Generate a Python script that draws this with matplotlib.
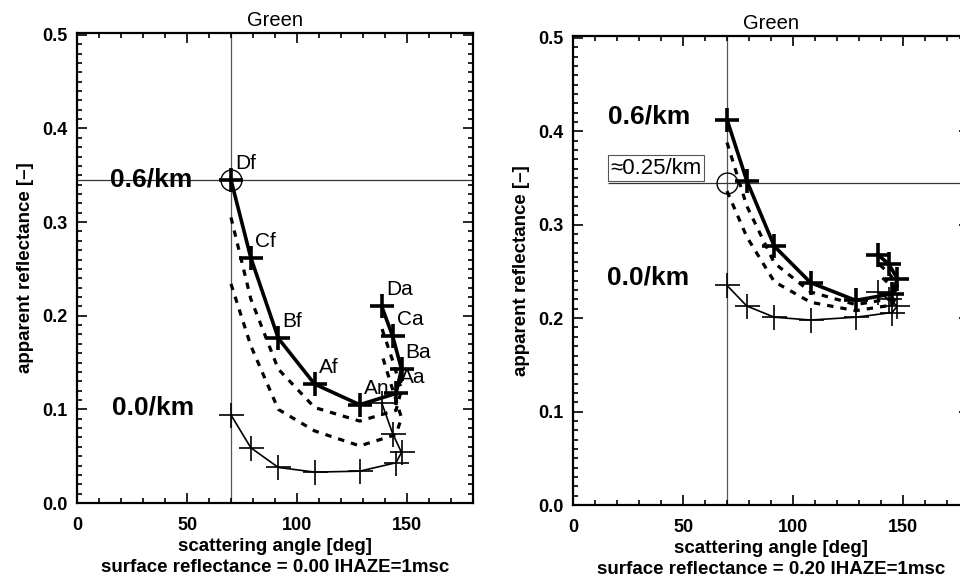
import matplotlib
matplotlib.use("Agg")
import matplotlib.pyplot as plt
from matplotlib.ticker import MultipleLocator

# MISR camera geometry (scattering angle per camera)
cameras = ["Df", "Cf", "Bf", "Af", "An", "Aa", "Ba", "Ca", "Da"]
angles = [70, 79, 91.5, 108, 128.5, 145, 147.5, 143.5, 138.5]

# apparent reflectance, surface reflectance 0.00
left_00 = [0.094, 0.059, 0.038, 0.033, 0.034, 0.043, 0.054, 0.074, 0.107]
left_02 = [0.234, 0.168, 0.100, 0.077, 0.061, 0.073, 0.091, 0.121, 0.159]
left_04 = [0.305, 0.218, 0.143, 0.102, 0.0875, 0.099, 0.121, 0.152, 0.187]
left_06 = [0.345, 0.262, 0.176, 0.127, 0.105, 0.117, 0.143, 0.178, 0.210]

# apparent reflectance, surface reflectance 0.20
right_00 = [0.235, 0.213, 0.201, 0.198, 0.201, 0.206, 0.213, 0.220, 0.228]
right_02 = [0.336, 0.287, 0.239, 0.217, 0.208, 0.214, 0.226, 0.237, 0.248]
right_04 = [0.388, 0.320, 0.259, 0.228, 0.2145, 0.221, 0.235, 0.2485, 0.259]
right_06 = [0.4125, 0.347, 0.277, 0.238, 0.219, 0.226, 0.242, 0.258, 0.268]

obs_angle = 70
obs_refl = 0.345

plt.rcParams['font.family'] = ['Liberation Sans', 'DejaVu Sans']

fig = plt.figure(figsize=(9.6, 5.79), dpi=100)
ax1 = fig.add_axes([77/960, 76/579, 396/960, 470/579])
ax2 = fig.add_axes([573/960, 74/579, 396/960, 469/579])


def draw_panel(ax, r00, r02, r04, r06, surf, hline_from):
    ax.axvline(obs_angle, color="#555555", lw=0.9, zorder=1)
    ax.hlines(obs_refl, hline_from, 180, color="#333333", lw=0.9, zorder=1)
    ax.plot(angles, r02, color="black", lw=2.3, ls=(0, (2, 2.2)), zorder=2)
    ax.plot(angles, r04, color="black", lw=2.3, ls=(0, (2, 2.2)), zorder=2)
    ax.plot(angles, r00, color="black", lw=1.2, marker="+", ms=18, mew=1.2, zorder=3)
    ax.plot(angles, r06, color="black", lw=2.6, marker="+", ms=17, mew=2.6, zorder=4)
    ax.plot([obs_angle], [obs_refl], marker="o", ms=15, mfc="none", mec="black", mew=1.0, zorder=5)

    ax.set_xlim(0, 180)
    ax.set_ylim(0, 0.502)
    ax.xaxis.set_major_locator(MultipleLocator(50))
    ax.xaxis.set_minor_locator(MultipleLocator(10))
    ax.yaxis.set_major_locator(MultipleLocator(0.1))
    ax.yaxis.set_minor_locator(MultipleLocator(0.01))
    ax.set_yticks([0.0, 0.1, 0.2, 0.3, 0.4, 0.5])
    ax.set_yticklabels(["0.0", "0.1", "0.2", "0.3", "0.4", "0.5"])
    ax.tick_params(which="both", direction="in", top=True, right=True, width=1.2)
    ax.tick_params(which="major", length=7)
    ax.tick_params(which="minor", length=3.5)
    ax.tick_params(axis="x", labelsize=13, pad=10)
    ax.tick_params(axis="y", labelsize=13, pad=7)
    plt.setp(ax.get_xticklabels(), fontweight="bold")
    plt.setp(ax.get_yticklabels(), fontweight="bold")
    for sp in ax.spines.values():
        sp.set_linewidth(1.6)

    ax.set_title("Green", fontsize=14.5, pad=5)
    ax.set_ylabel("apparent reflectance [\u2013]", fontsize=13.5, fontweight="bold", labelpad=6)
    ax.set_xlabel("scattering angle [deg]\nsurface reflectance = %s IHAZE=1msc" % surf,
                  fontsize=13.5, fontweight="bold", linespacing=1.3, labelpad=3)


draw_panel(ax1, left_00, left_02, left_04, left_06, "0.00", 0)
draw_panel(ax2, right_00, right_02, right_04, right_06, "0.20", 16)

# left panel annotations
ax1.text(15, obs_refl, "0.6/km", fontsize=19, fontweight="bold", va="center", ha="left", zorder=6)
ax1.text(16, 0.102, "0.0/km", fontsize=19, fontweight="bold", va="center", ha="left", zorder=6)
for name, a, r in zip(cameras, angles, left_06):
    ax1.annotate(name, (a, r), xytext=(3, 5), textcoords="offset points",
                 fontsize=15, ha="left", va="bottom", zorder=6)

# right panel annotations
ax2.text(16, 0.416, "0.6/km", fontsize=19, fontweight="bold", va="center", ha="left", zorder=6)
ax2.text(15.5, 0.243, "0.0/km", fontsize=19, fontweight="bold", va="center", ha="left", zorder=6)
ax2.text(17, 0.3605, "\u22480.25/km", fontsize=16, va="center", ha="left", zorder=6,
         bbox=dict(boxstyle="square,pad=0.1", fc="white", ec="#555555", lw=0.8))

fig.savefig("out.png", dpi=100)
